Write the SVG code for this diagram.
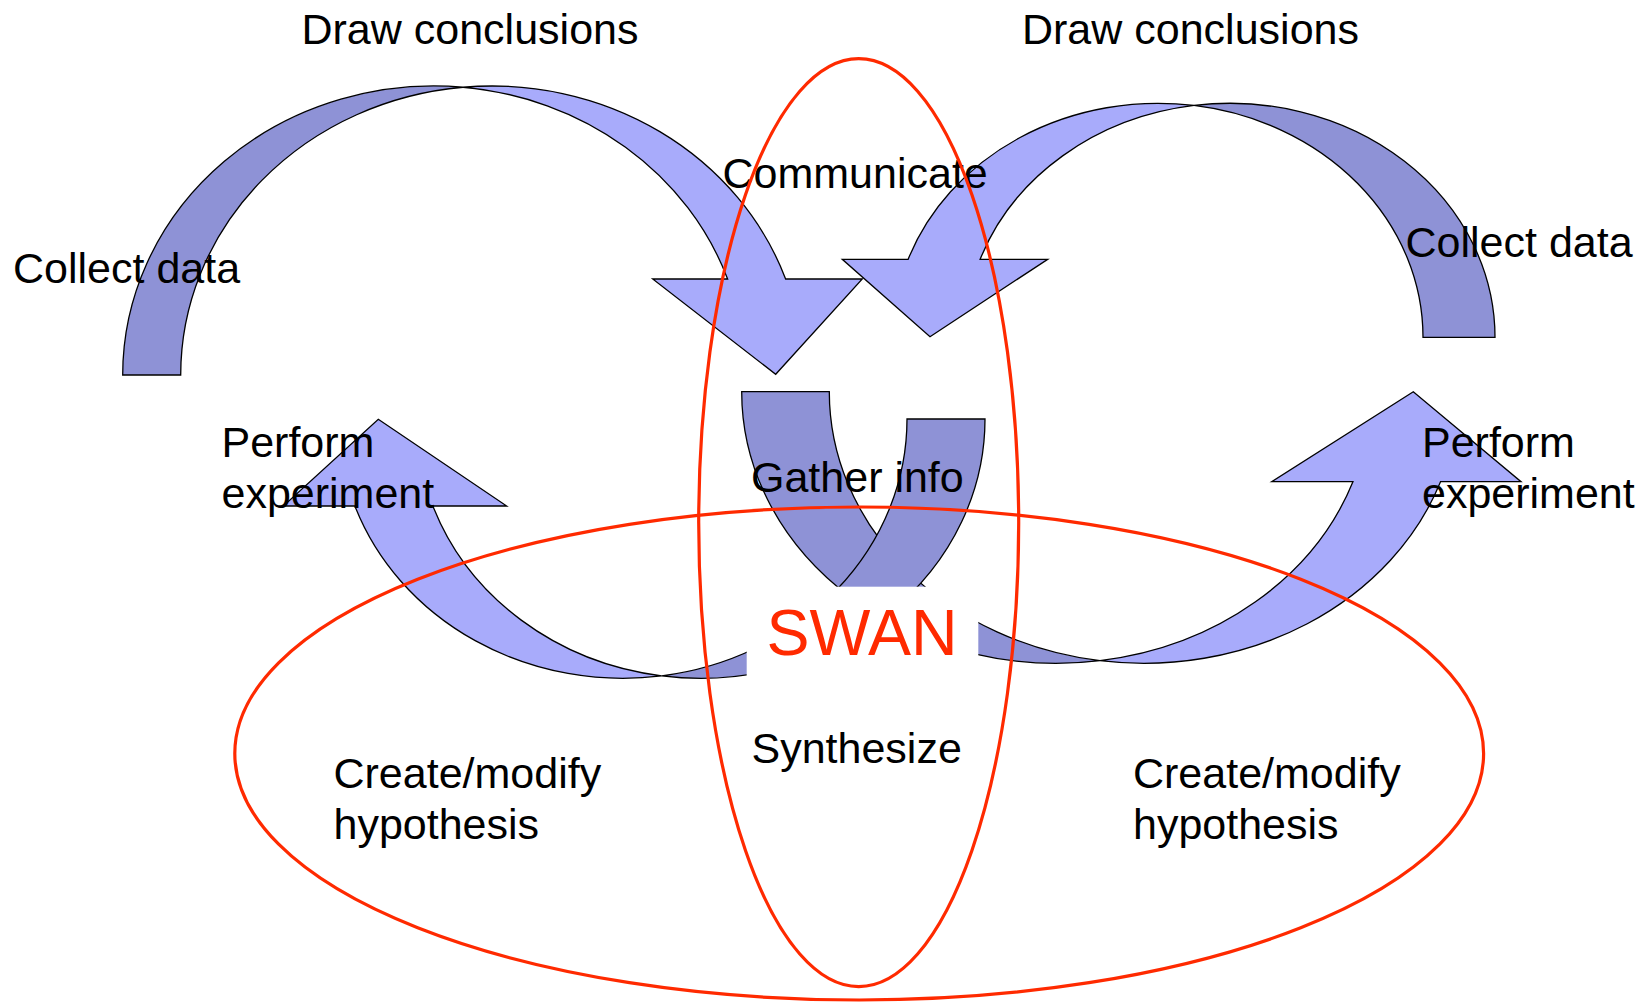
<svg xmlns="http://www.w3.org/2000/svg" width="1642" height="1002" viewBox="0 0 1642 1002">
  <style>
    .back { fill: #8e92d6; stroke: #000; stroke-width: 1.3; stroke-linejoin: miter; }
    .front { fill: #a8abfb; stroke: #000; stroke-width: 1.3; stroke-linejoin: miter; }
    .lbl { font-family: "Liberation Sans", Arial, Helvetica, sans-serif; font-size: 43px; fill: #000; }
    .swan { font-family: "Liberation Sans", Arial, Helvetica, sans-serif; font-size: 64.5px; fill: #ff2a00; }
    .scope { fill: none; stroke: #ff2a00; stroke-width: 3.2; }
  </style>

  <!-- curved cycle arrows (twisted ribbons: back half darker, front half with head) -->
  <g id="connectors">
    <g id="arrow-left-top">
      <path class="back" d="M122.7,375 A311.3,289 0 0 1 463,87.26 A311.3,289 0 0 0 180.7,375 Z"/>
      <path class="front" d="M463,87.26 A311.3,289 0 0 1 785.62,279 L862.3,279 L775.7,374.3 L652.7,279 L727.62,279 A311.3,289 0 0 0 463,87.26 Z"/>
    </g>
    <g id="arrow-right-top">
      <path class="back" d="M1495,337.3 A265,234 0 0 0 1194,105.47 A265,234 0 0 1 1423,337.3 Z"/>
      <path class="front" d="M1194,105.47 A265,234 0 0 0 908.15,259.3 L842.3,259.3 L930,336.7 L1047.7,259.3 L980.15,259.3 A265,234 0 0 1 1194,105.47 Z"/>
    </g>
    <g id="arrow-right-bottom">
      <path class="back" d="M741.7,391.7 A314.5,271.6 0 0 0 1100,660.65 A314.5,271.6 0 0 1 829.3,391.7 Z"/>
      <path class="front" d="M1100,660.65 A314.5,271.6 0 0 0 1440.53,481.7 L1521,481.7 L1413.3,391.7 L1271.7,481.7 L1352.93,481.7 A314.5,271.6 0 0 1 1100,660.65 Z"/>
    </g>
    <g id="arrow-left-bottom">
      <path class="back" d="M985,419 A284.3,259.3 0 0 1 661.7,675.85 A284.3,259.3 0 0 0 907,419 Z"/>
      <path class="front" d="M661.7,675.85 A284.3,259.3 0 0 1 354.88,506 L283.3,506 L378.3,419.3 L506.7,506 L432.88,506 A284.3,259.3 0 0 0 661.7,675.85 Z"/>
    </g>
  </g>

  <!-- SWAN label on an opaque panel -->
  <g id="swan">
    <rect x="746.7" y="586.7" width="231.6" height="100" fill="#fff"/>
    <text class="swan" x="766.5" y="655">SWAN</text>
  </g>

  <!-- step labels -->
  <g id="draw-conclusions-left"><text class="lbl" x="301.5" y="43.5">Draw conclusions</text></g>
  <g id="draw-conclusions-right"><text class="lbl" x="1022" y="43.5">Draw conclusions</text></g>
  <g id="communicate"><text class="lbl" x="722.5" y="188.3">Communicate</text></g>
  <g id="collect-data-left"><text class="lbl" x="13" y="282.7">Collect data</text></g>
  <g id="collect-data-right"><text class="lbl" x="1405.5" y="257.3">Collect data</text></g>
  <g id="perform-left"><text class="lbl" x="221.5" y="457.3">Perform</text><text class="lbl" x="221.5" y="508.3">experiment</text></g>
  <g id="perform-right"><text class="lbl" x="1422" y="457.3">Perform</text><text class="lbl" x="1422" y="508.3">experiment</text></g>
  <g id="gather-info"><text class="lbl" x="751" y="491.7">Gather info</text></g>
  <g id="synthesize"><text class="lbl" x="751.5" y="763.3">Synthesize</text></g>
  <g id="hypothesis-left"><text class="lbl" x="333.5" y="788.3">Create/modify</text><text class="lbl" x="333.5" y="839.3">hypothesis</text></g>
  <g id="hypothesis-right"><text class="lbl" x="1133" y="788.3">Create/modify</text><text class="lbl" x="1133" y="839.3">hypothesis</text></g>

  <!-- SWAN scope outlines -->
  <g id="scopes">
    <ellipse id="scope-vertical" class="scope" cx="858.7" cy="522.6" rx="160" ry="464"/>
    <ellipse id="scope-horizontal" class="scope" cx="859.2" cy="753.5" rx="624.4" ry="246.5"/>
  </g>
</svg>
